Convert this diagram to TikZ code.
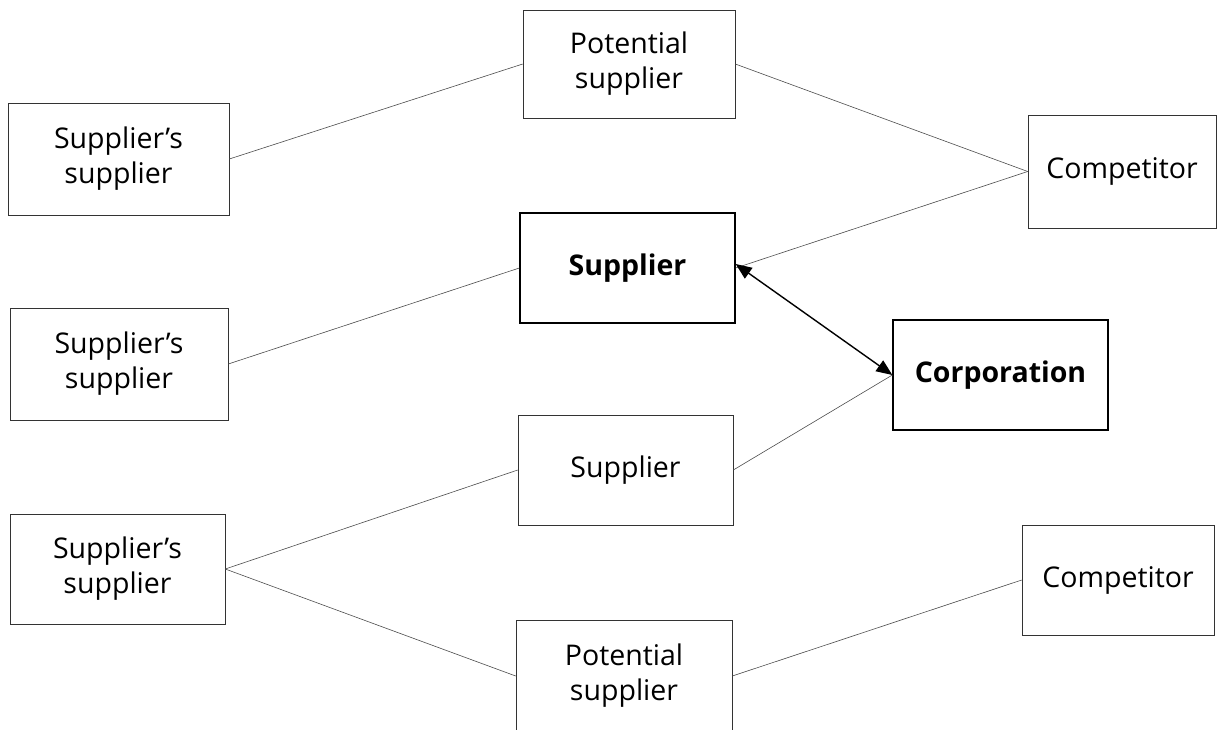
\documentclass[tikz,border=0pt]{standalone}
\usepackage{fontspec}
\setmainfont{Open Sans}
\usetikzlibrary{arrows.meta}
\begin{document}
\begin{tikzpicture}[x=1pt,y=-1pt,
  box/.style={draw=black!80, line width=0.6pt, align=center, font=\fontsize{28.5}{35}\selectfont, inner sep=0pt},
  boldbox/.style={box, draw=black, line width=1.3pt, font=\fontsize{28.5}{35}\selectfont\bfseries},
  link/.style={draw=black!70, line width=0.6pt},
  bigtip/.tip={Triangle[length=16pt,width=13pt]}]
\useasboundingbox (0,0) rectangle (1224,729);
\node[box, minimum width=212pt, minimum height=108pt] (ps1) at (629,64) {Potential\\supplier};
\node[box, minimum width=221pt, minimum height=112pt] (ss1) at (118.5,159) {Supplier's\\supplier};
\node[box, minimum width=188pt, minimum height=113pt] (c1) at (1122,171.5) {Competitor};
\node[boldbox, minimum width=215pt, minimum height=110pt] (sup) at (627.5,268) {Supplier};
\node[box, minimum width=218pt, minimum height=112pt] (ss2) at (119,364) {Supplier's\\supplier};
\node[boldbox, minimum width=215pt, minimum height=110pt] (corp) at (1000.5,375) {Corporation};
\node[box, minimum width=215pt, minimum height=110pt] (sup2) at (625.5,470) {Supplier};
\node[box, minimum width=215pt, minimum height=110pt] (ss3) at (117.5,569) {Supplier's\\supplier};
\node[box, minimum width=192pt, minimum height=110pt] (c2) at (1118,580) {Competitor};
\node[box, minimum width=216pt, minimum height=112pt] (ps2) at (624,676) {Potential\\supplier};
\draw[link] (ss1.east) -- (ps1.west);
\draw[link] (ps1.east) -- (c1.west);
\draw[link] (c1.west) -- (sup.east);
\draw[link] (ss2.east) -- (sup.west);
\draw[link] (corp.west) -- (sup2.east);
\draw[link] (ss3.east) -- (sup2.west);
\draw[link] (ss3.east) -- (ps2.west);
\draw[link] (ps2.east) -- (c2.west);
\draw[line width=1.4pt, {bigtip}-{bigtip}] ([yshift=4pt]sup.east) -- (corp.west);
\end{tikzpicture}
\end{document}
